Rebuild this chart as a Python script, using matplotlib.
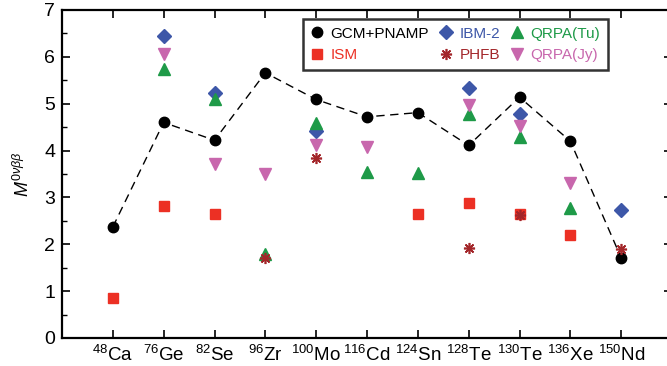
import matplotlib
matplotlib.use("Agg")
import matplotlib.pyplot as plt
from matplotlib.ticker import MultipleLocator, FixedLocator
import numpy as np

plt.rcParams['font.family'] = ['Liberation Sans', 'DejaVu Sans']
plt.rcParams['mathtext.fontset'] = 'custom'
plt.rcParams['mathtext.rm'] = 'Liberation Sans'
plt.rcParams['mathtext.it'] = 'Liberation Sans:italic'
plt.rcParams['mathtext.bf'] = 'Liberation Sans:bold'

nuclei = [r'$^{48}$Ca', r'$^{76}$Ge', r'$^{82}$Se', r'$^{96}$Zr', r'$^{100}$Mo', r'$^{116}$Cd',
          r'$^{124}$Sn', r'$^{128}$Te', r'$^{130}$Te', r'$^{136}$Xe', r'$^{150}$Nd']

# GCM+PNAMP (all nuclei)
gcm = [2.37, 4.60, 4.22, 5.66, 5.09, 4.72, 4.81, 4.11, 5.14, 4.20, 1.71]

# ISM
ism_nuc = ['Ca', 'Ge', 'Se', 'Sn', 'Te128', 'Te130', 'Xe']
ism = [0.85, 2.81, 2.64, 2.64, 2.89, 2.65, 2.19]

# IBM-2
ibm_nuc = ['Ge', 'Se', 'Mo', 'Te128', 'Te130', 'Nd']
ibm = [6.45, 5.22, 4.41, 5.33, 4.79, 2.74]

# QRPA(Tu)
tu_nuc = ['Ge', 'Se', 'Zr', 'Mo', 'Cd', 'Sn', 'Te128', 'Te130', 'Xe']
qrpa_tu = [5.75, 5.11, 1.80, 4.59, 3.55, 3.52, 4.79, 4.29, 2.78]

# PHFB
phfb_nuc = ['Zr', 'Mo', 'Te128', 'Te130', 'Nd']
phfb = [1.71, 3.84, 1.93, 2.62, 1.91]

# QRPA(Jy)
jy_nuc = ['Ge', 'Se', 'Zr', 'Mo', 'Cd', 'Te128', 'Te130', 'Xe']
qrpa_jy = [6.06, 3.71, 3.51, 4.11, 4.08, 4.97, 4.52, 3.31]

keys = ['Ca', 'Ge', 'Se', 'Zr', 'Mo', 'Cd', 'Sn', 'Te128', 'Te130', 'Xe', 'Nd']
pos = {k: i + 1 for i, k in enumerate(keys)}

def xs(names):
    return [pos[n] for n in names]

fig = plt.figure(figsize=(6.67, 3.66), dpi=100)
ax = fig.add_axes([62 / 667, 1 - 338 / 366, (672 - 62) / 667, (338 - 10) / 366])

c_black = 'black'
c_red = '#ec3024'
c_blue = '#3d57a8'
c_green = '#1e9a48'
c_dred = '#a3262a'
c_pink = '#c867ad'

h1, = ax.plot(xs(keys), gcm, linestyle=(0, (6, 4)), color='black', lw=1.0,
              marker='o', ms=7.5, mfc=c_black, mec=c_black, label='GCM+PNAMP', zorder=3)
h2, = ax.plot(xs(ism_nuc), ism, linestyle='none', marker='s', ms=7.5, color=c_red,
              label='ISM', zorder=3)
h3, = ax.plot(xs(ibm_nuc), ibm, linestyle='none', marker='D', ms=7.5, color=c_blue,
              label='IBM-2', zorder=3)
h4, = ax.plot(xs(phfb_nuc), phfb, linestyle='none', marker=(8, 2, 0), ms=8, mew=1.2,
              color=c_dred, label='PHFB', zorder=4)
h5, = ax.plot(xs(tu_nuc), qrpa_tu, linestyle='none', marker='^', ms=8.5, color=c_green,
              label='QRPA(Tu)', zorder=3)
h6, = ax.plot(xs(jy_nuc), qrpa_jy, linestyle='none', marker='v', ms=8.5, color=c_pink,
              label='QRPA(Jy)', zorder=3)

ax.set_xlim(0, 12)
ax.set_ylim(0, 7)
ax.xaxis.set_major_locator(FixedLocator(list(range(1, 12))))
ax.set_xticklabels(nuclei, fontsize=13.5)
ax.yaxis.set_major_locator(MultipleLocator(1))
ax.yaxis.set_minor_locator(MultipleLocator(0.5))
ax.tick_params(axis='both', which='major', direction='in', length=6, width=1.2,
               top=True, right=True, labelsize=14, pad=5)
ax.tick_params(axis='y', which='minor', direction='in', length=3.5, width=1.0, right=True)
ax.tick_params(axis='x', labelsize=13.5, pad=5)
for s in ax.spines.values():
    s.set_linewidth(1.6)

ax.set_ylabel(r'$M^{0\nu\beta\beta}$', fontsize=13, labelpad=8)

leg = ax.legend(handles=[h1, h2, h3, h4, h5, h6], ncol=3,
                loc='upper left', bbox_to_anchor=(303 / 667, 1 - 19 / 366),
                bbox_transform=fig.transFigure,
                fontsize=11, frameon=True, fancybox=False, handlelength=0.8,
                handletextpad=0.5, columnspacing=0.7, borderpad=0.5, labelspacing=0.5,
                borderaxespad=0)
leg.get_frame().set_edgecolor('black')
leg.get_frame().set_linewidth(1.8)
for txt, col in zip(leg.get_texts(), [c_black, c_red, c_blue, c_dred, c_green, c_pink]):
    txt.set_color(col)
for lh in leg.get_lines():
    lh.set_linestyle('none')

fig.savefig('out.png', dpi=100)
